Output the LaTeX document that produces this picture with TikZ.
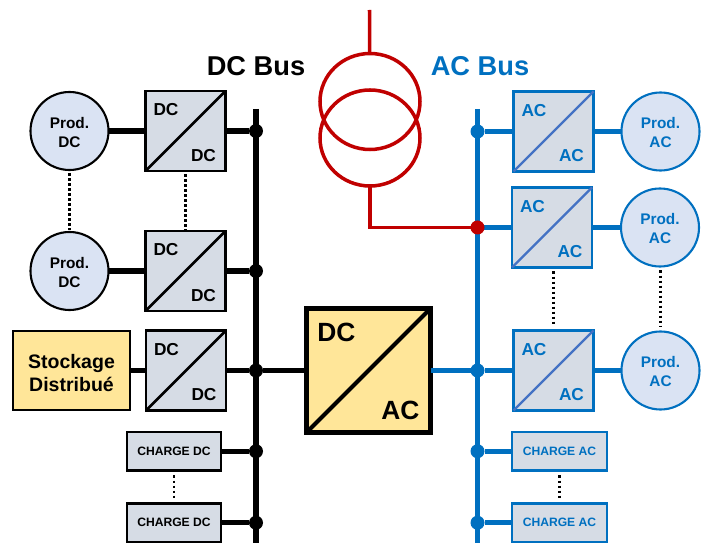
\documentclass[tikz,border=0pt]{standalone}
\usepackage{fontspec}
\setmainfont{Liberation Sans}
\usepackage{xcolor}
\usepackage{tikz}
\usetikzlibrary{positioning,shapes.geometric}
\definecolor{acblue}{RGB}{0,112,192}
\definecolor{acdiag}{RGB}{68,114,196}
\definecolor{gridred}{RGB}{192,0,0}
\definecolor{convgray}{RGB}{214,220,229}
\definecolor{prodfill}{RGB}{218,227,243}
\definecolor{stockfill}{RGB}{255,230,153}
\newcommand{\prodtop}{\rule{0pt}{7.8pt}Prod.}

\begin{document}
\begin{tikzpicture}[
  every node/.style={outer sep=0pt, inner sep=1pt},
  prod/.style={circle, draw, line width=1.2pt, fill=prodfill, minimum size=1.56cm, align=center,
    font=\bfseries\fontsize{8.75}{10.9}\selectfont},
  conv/.style={rectangle, draw, line width=1.4pt, fill=convgray, minimum size=1.6cm},
  charge/.style={rectangle, draw, line width=1.4pt, fill=convgray, minimum width=1.89cm,
    minimum height=0.77cm, font=\bfseries\fontsize{6.9}{8}\selectfont},
  stock/.style={rectangle, draw, line width=1.2pt, fill=stockfill, minimum width=2.34cm,
    minimum height=1.58cm, align=center, font=\bfseries\fontsize{11.1}{13.5}\selectfont},
  mainconv/.style={rectangle, draw, line width=2.85pt, fill=stockfill, minimum size=2.48cm},
  xfmr/.style={ellipse, draw=gridred, line width=2pt, minimum width=2cm, minimum height=1.92cm},
  ac/.style={draw=acblue, text=acblue},
  convtxt/.style={font=\bfseries\fontsize{9.85}{11}\selectfont},
  maintxt/.style={font=\bfseries\fontsize{15}{17}\selectfont},
  bustxt/.style={inner sep=0pt, font=\bfseries\fontsize{15.5}{18}\selectfont},
  dcwire/.style={line width=3pt},
  acwire/.style={line width=3pt, acblue},
  dcbus/.style={line width=3.2pt},
  acbus/.style={line width=3.4pt, acblue},
  redwire/.style={line width=2pt, gridred},
  dotline/.style={line width=1.5pt, dash pattern=on 1.5pt off 1.35pt},
  dcdot/.style={circle, fill=black, minimum size=0.28cm, inner sep=0pt},
  acdot/.style={circle, fill=acblue, minimum size=0.28cm, inner sep=0pt},
  reddot/.style={circle, fill=gridred, minimum size=0.28cm, inner sep=0pt}
]
\useasboundingbox (0,0) rectangle (14.22,-10.86);

\coordinate (dcbustop) at (5.12,-2.18);
\coordinate (dcbusbot) at (5.12,-10.86);
\coordinate (acbustop) at (9.55,-2.18);
\coordinate (acbusbot) at (9.55,-10.86);
\coordinate (gridtop) at (7.39,-0.2);

\node[prod] (proddc1) at (1.39,-2.62) {\prodtop\\DC};
\node[conv, right=0.74cm of proddc1] (dcdc1) {};
\node[prod, below=1.24cm of proddc1] (proddc2) {\prodtop\\DC};
\node[conv, right=0.74cm of proddc2] (dcdc2) {};
\node[stock, below=0.42cm of proddc2, xshift=0.04cm] (storage) {\rule{0pt}{10.9pt}Stockage\\Distribué};
\node[conv, right=0.32cm of storage] (dcdc3) {};
\node[charge, below=0.43cm of dcdc3, xshift=-0.24cm] (chargedc1) {CHARGE DC};
\node[charge, below=0.66cm of chargedc1] (chargedc2) {CHARGE DC};

\node[mainconv, right=1.61cm of dcdc3] (mainbox) {};

\node[conv, ac, right=1.66cm of mainbox] (acac3) {};
\node[prod, ac, right=0.56cm of acac3] (prodac3) {\prodtop\\AC};
\node[conv, ac, above=1.26cm of acac3, xshift=-0.03cm] (acac2) {};
\node[prod, ac, right=0.58cm of acac2] (prodac2) {\prodtop\\AC};
\node[conv, ac, above=0.32cm of acac2, xshift=0.03cm] (acac1) {};
\node[prod, ac, right=0.56cm of acac1] (prodac1) {\prodtop\\AC};
\node[charge, ac, below=0.43cm of acac3, xshift=0.12cm] (chargeac1) {CHARGE AC};
\node[charge, ac, below=0.66cm of chargeac1] (chargeac2) {CHARGE AC};

\node[xfmr] (xfup) at (7.4,-2.03) {};
\node[xfmr, below=-1.19cm of xfup] (xflow) {};

\node[bustxt, above=0.66cm of dcbustop] (dclabel) {DC Bus};
\node[bustxt, acblue, above=0.66cm of acbustop, xshift=0.05cm] (aclabel) {AC Bus};

\foreach \b in {dcdc1,dcdc2,dcdc3} {
  \draw[line width=1.5pt] (\b.south west) -- (\b.north east);
  \node[convtxt, xshift=-0.39cm, yshift=0.42cm] (\b in) at (\b) {DC};
  \node[convtxt, xshift=0.36cm, yshift=-0.49cm] (\b out) at (\b) {DC};
}
\foreach \b in {acac1,acac2,acac3} {
  \draw[line width=1.3pt, acdiag] (\b.south west) -- (\b.north east);
  \node[convtxt, acblue, xshift=-0.39cm, yshift=0.42cm] (\b in) at (\b) {AC};
  \node[convtxt, acblue, xshift=0.36cm, yshift=-0.49cm] (\b out) at (\b) {AC};
}
\draw[line width=2.4pt] (mainbox.south west) -- (mainbox.north east);
\node[maintxt, xshift=-0.64cm, yshift=0.76cm] (mainin) at (mainbox) {DC};
\node[maintxt, xshift=0.64cm, yshift=-0.8cm] (mainout) at (mainbox) {AC};

\draw[dcbus] (dcbustop) -- (dcbusbot);
\draw[acbus] (acbustop) -- (acbusbot);

\node[dcdot] (jdc1) at (dcbustop |- dcdc1) {};
\node[dcdot] (jdc2) at (dcbustop |- dcdc2) {};
\node[dcdot] (jdc3) at (dcbustop |- dcdc3) {};
\node[dcdot] (jdc4) at (dcbustop |- chargedc1) {};
\node[dcdot] (jdc5) at (dcbustop |- chargedc2) {};
\node[acdot] (jac1) at (acbustop |- acac1) {};
\node[acdot] (jac3) at (acbustop |- acac3) {};
\node[acdot] (jac4) at (acbustop |- chargeac1) {};
\node[acdot] (jac5) at (acbustop |- chargeac2) {};

\draw[dcwire] (proddc1) -- (dcdc1);
\draw[dcwire] (dcdc1) -- (jdc1);
\draw[dcwire] (proddc2) -- (dcdc2);
\draw[dcwire] (dcdc2) -- (jdc2);
\draw[dcwire, line width=2.6pt] (storage) -- (dcdc3);
\draw[dcwire, line width=2.6pt] (dcdc3) -- (jdc3);
\draw[dcwire, line width=2.6pt] (jdc3) -- (mainbox);
\draw[dcwire] (chargedc1) -- (jdc4);
\draw[dcwire] (chargedc2) -- (jdc5);

\draw[acwire] (mainbox) -- (jac3);
\draw[acwire] (jac1) -- (acac1);
\draw[acwire] (acac1) -- (prodac1);
\draw[acwire] (acbustop |- acac2) -- (acac2);
\draw[acwire] (acac2) -- (prodac2);
\draw[acwire] (jac3) -- (acac3);
\draw[acwire] (acac3) -- (prodac3);
\draw[acwire] (jac4) -- (chargeac1);
\draw[acwire] (jac5) -- (chargeac2);

\draw[redwire] (gridtop) -- (xfup);
\draw[redwire] (xflow.south) |- (acbustop |- acac2);
\node[reddot] (jred) at (acbustop |- acac2) {};

\draw[dotline, shorten <=0.06cm, shorten >=0.04cm] (proddc1) -- (proddc2);
\draw[dotline, shorten <=0.06cm, shorten >=0.02cm] (dcdc1) -- (dcdc2);
\draw[dotline, shorten <=0.1cm, shorten >=0.1cm] (chargedc1) -- (chargedc2);
\draw[dotline, shorten <=0.08cm, shorten >=0.1cm] (acac3.north |- acac2.south) -- (acac3.north);
\draw[dotline, shorten <=0.08cm, shorten >=0.1cm] (prodac3.north |- prodac2.south) -- (prodac3.north);
\draw[dotline, shorten <=0.1cm, shorten >=0.1cm] (chargeac1) -- (chargeac2);
\end{tikzpicture}
\end{document}
